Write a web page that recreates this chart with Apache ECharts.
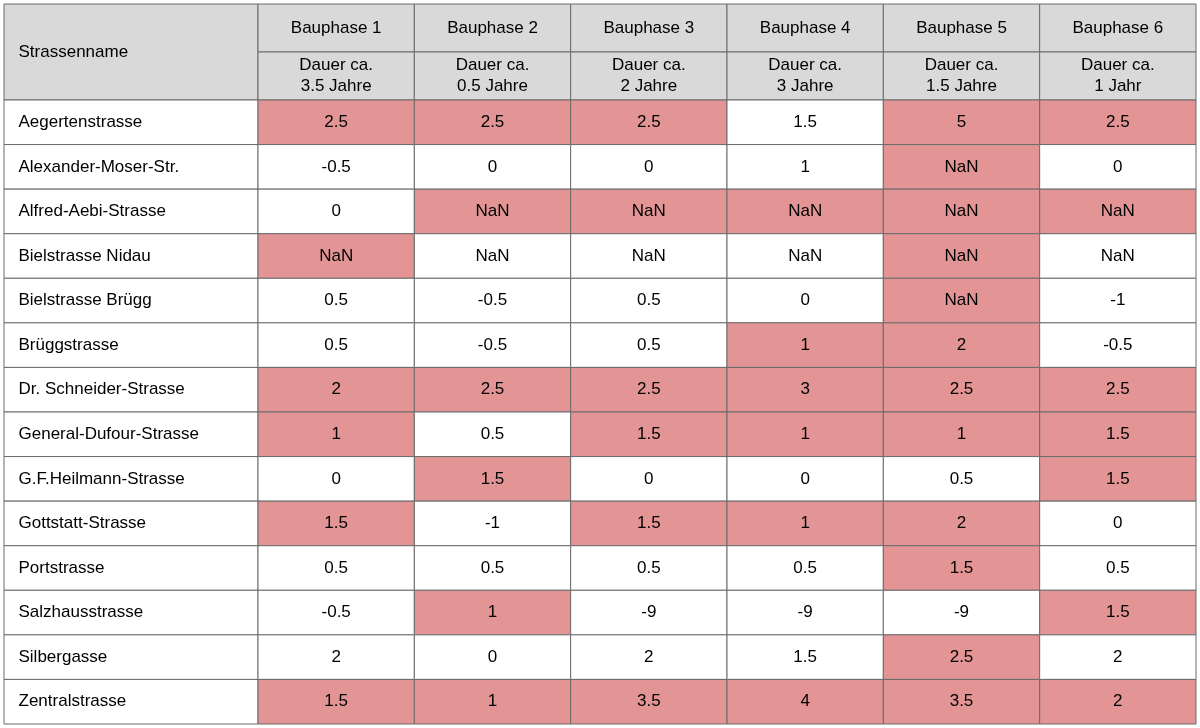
<!DOCTYPE html>
<html><head><meta charset="utf-8">
<script src="https://cdn.jsdelivr.net/npm/echarts@6/dist/echarts.min.js"></script>
<style>html,body{margin:0;padding:0;background:#fff}#c{width:1200px;height:728px}</style>
</head><body><div id="c"></div>
<script>
const phases = ['Bauphase 1','Bauphase 2','Bauphase 3','Bauphase 4','Bauphase 5','Bauphase 6'];
const durations = ['Dauer ca.\n3.5 Jahre','Dauer ca.\n0.5 Jahre','Dauer ca.\n2 Jahre','Dauer ca.\n3 Jahre','Dauer ca.\n1.5 Jahre','Dauer ca.\n1 Jahr'];
const streets = ['Aegertenstrasse','Alexander-Moser-Str.','Alfred-Aebi-Strasse','Bielstrasse Nidau','Bielstrasse Brügg','Brüggstrasse','Dr. Schneider-Strasse','General-Dufour-Strasse','G.F.Heilmann-Strasse','Gottstatt-Strasse','Portstrasse','Salzhausstrasse','Silbergasse','Zentralstrasse'];
const values = [
 ['+2.5','+2.5','+2.5','+1.5','+5','+2.5'],
 ['-0.5','0','0','+1','+4 bis +5.5','0'],
 ['0','+2 bis +3','+3 bis +5','+3 bis +5','+1.5 bis +3.5','+1.5 bis +2.5'],
 ['+5 bis +8','+3 bis +7','+3 bis +7','+3 bis +6','+7 bis +11','+3 bis +7'],
 ['+0.5','-0.5','+0.5','0','+3 bis +6','-1'],
 ['+0.5','-0.5','+0.5','+1','+2','-0.5'],
 ['+2','+2.5','+2.5','+3','+2.5','+2.5'],
 ['+1','+0.5','+1.5','+1','+1','+1.5'],
 ['0','+1.5','0','0','+0.5','+1.5'],
 ['+1.5','-1','+1.5','+1','+2','0'],
 ['+0.5','+0.5','+0.5','+0.5','+1.5','+0.5'],
 ['-0.5','+1','-9','-9','-9','+1.5'],
 ['+2','0','+2','+1.5','+2.5','+2'],
 ['+1.5','+1','+3.5','+4','+3.5','+2']
];
const highlight = [
 [1,1,1,0,1,1],[0,0,0,0,1,0],[0,1,1,1,1,1],[1,0,0,0,1,0],[0,0,0,0,1,0],[0,0,0,1,1,0],
 [1,1,1,1,1,1],[1,0,1,1,1,1],[0,1,0,0,0,1],[1,0,1,1,1,0],[0,0,0,0,1,0],[0,1,0,0,0,1],
 [0,0,0,0,1,0],[1,1,1,1,1,1]
];
const FONT = '17px "Liberation Sans", Arial, sans-serif';
const HEAD = '#d9d9d9', HI = '#e39596', LINE = '#6b6b6b';

function cell(params, api, opts){
  const p = api.coord([api.value(0), api.value(1)]);
  const s = api.size([1,1]);
  const h = s[1]*(opts.span||1);
  const y0 = p[1]-s[1]/2;
  return {
    type:'rect',
    shape:{x:p[0]-s[0]/2, y:y0, width:s[0], height:h},
    style:{fill:api.value(3), stroke:LINE, lineWidth:1},
    textContent:{type:'text', style:{text:api.value(2), font:FONT, fill:'#000', align:opts.align||'center', lineHeight:21}},
    textConfig:{position:opts.pos||'inside', distance:opts.dist||0}
  };
}
const hideAxis = {axisLine:{show:false},axisTick:{show:false},axisLabel:{show:false},splitLine:{show:false}};
const headVals=[]; phases.forEach((t,i)=>{headVals.push([i,0,t,HEAD]);headVals.push([i,1,durations[i],HEAD]);});
const nameData = streets.map((s,i)=>[0,i,s,'#fff']);
const valData=[]; values.forEach((r,i)=>r.forEach((v,j)=>valData.push([j,i,v,highlight[i][j]?HI:'#fff'])));

const chart = echarts.init(document.getElementById('c'));
chart.setOption({
  animation:false,
  grid:[
    {left:4,width:254,top:4,height:96},
    {left:258,right:4,top:4,height:96},
    {left:4,width:254,top:100,bottom:4},
    {left:258,right:4,top:100,bottom:4}
  ],
  xAxis:[
    Object.assign({type:'category',gridIndex:0,data:['h']},hideAxis),
    Object.assign({type:'category',gridIndex:1,data:phases},hideAxis),
    Object.assign({type:'category',gridIndex:2,data:['n']},hideAxis),
    Object.assign({type:'category',gridIndex:3,data:phases},hideAxis)
  ],
  yAxis:[
    Object.assign({type:'category',gridIndex:0,data:['a','b'],inverse:true},hideAxis),
    Object.assign({type:'category',gridIndex:1,data:['Bauphase','Dauer'],inverse:true},hideAxis),
    Object.assign({type:'category',gridIndex:2,data:streets,inverse:true},hideAxis),
    Object.assign({type:'category',gridIndex:3,data:streets,inverse:true},hideAxis)
  ],
  series:[
    {type:'custom',xAxisIndex:0,yAxisIndex:0,data:[[0,0,'Strassenname',HEAD]],renderItem:(p,a)=>cell(p,a,{span:2,pos:'insideLeft',dist:15,align:'left'})},
    {type:'custom',xAxisIndex:1,yAxisIndex:1,data:headVals,renderItem:(p,a)=>cell(p,a,{})},
    {type:'custom',xAxisIndex:2,yAxisIndex:2,data:nameData,renderItem:(p,a)=>cell(p,a,{pos:'insideLeft',dist:15,align:'left'})},
    {type:'custom',xAxisIndex:3,yAxisIndex:3,data:valData,renderItem:(p,a)=>cell(p,a,{})}
  ]
});
</script></body></html>
